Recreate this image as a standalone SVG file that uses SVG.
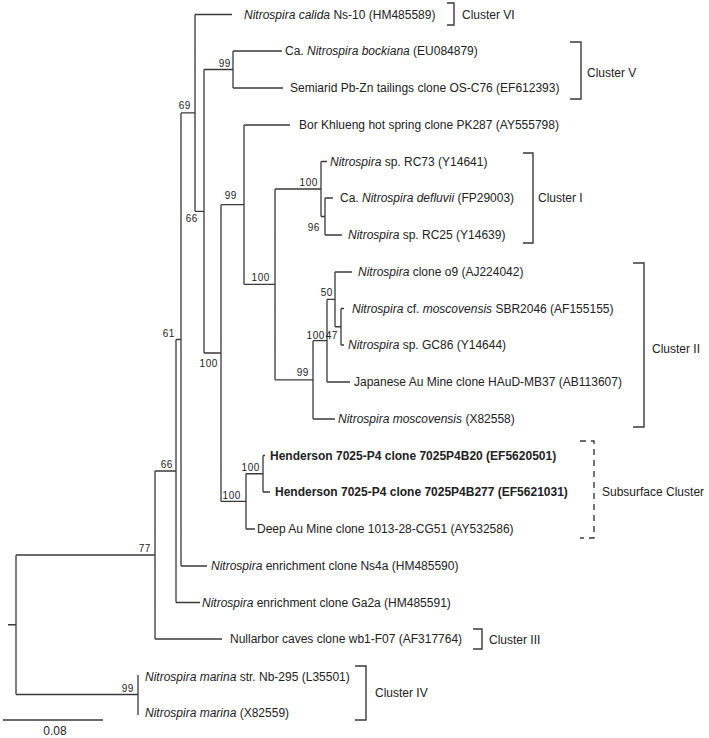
<svg xmlns="http://www.w3.org/2000/svg" width="709" height="738" viewBox="0 0 709 738">
<style>
.br{fill:none;stroke:#3a3a3a;stroke-width:1.3}
.bk{fill:none;stroke:#3a3a3a;stroke-width:1.4}
.dash{fill:none;stroke:#3a3a3a;stroke-width:1.4;stroke-dasharray:6,5}
text{font-family:"Liberation Sans",Arial,sans-serif;fill:#222}
.lf{font-size:12px}
.b{font-weight:bold}
.i{font-style:italic}
.sp{font-size:10px;text-anchor:end;letter-spacing:0.6px}
.cl{font-size:12px}
</style>
<rect width="709" height="738" fill="#fff"/>
<g id="connectors">
<path class="br" d="M8,624.75H16 M16,555V694.5
M16,555H155 M155,471V639 M155,639H222
M155,471H176 M176,339.5V602.5 M176,602.5H200
M176,339.5H181 M181,112.9V566 M181,566H207
M181,112.9H195 M195,14.5V211.3 M195,14.5H232
M195,211.3H204 M204,69.5V353
M204,69.5H233 M233,51V88 M233,51H282 M233,88H283
M204,353H221 M221,204.7V501.4
M221,204.7H244 M244,125V284.4 M244,125H290
M244,284.4H275 M275,189V379.85
M275,189H321 M321,161.5V216.5 M321,161.5H327
M321,216.5H325 M325,198V235 M325,198H333 M325,235H342
M275,379.85H313 M313,340.7V419 M313,419H335
M313,340.7H327 M327,299.4V382 M327,382H350
M327,299.4H335 M335,272V326.75 M335,272H352
M335,326.75H341 M341,308.5V345 M341,308.5H344 M341,345H344
M221,501.4H246 M246,473.75V529 M246,529H255
M246,473.75H263 M263,455.5V492 M263,455.5H265 M263,492H270
M16,694.5H138 M138,675V715"/>
</g>
<g id="leaves">
<g id="leaf-calida"><text class="lf" x="244" y="18.8"><tspan class="i">Nitrospira calida</tspan> Ns-10 (HM485589)</text></g>
<g id="leaf-bockiana"><text class="lf" x="285" y="55.3">Ca. <tspan class="i">Nitrospira bockiana</tspan> (EU084879)</text></g>
<g id="leaf-semiarid"><text class="lf" x="290" y="92.3">Semiarid Pb-Zn tailings clone OS-C76 (EF612393)</text></g>
<g id="leaf-bor"><text class="lf" x="299" y="129.3">Bor Khlueng hot spring clone PK287 (AY555798)</text></g>
<g id="leaf-rc73"><text class="lf" x="330" y="165.8"><tspan class="i">Nitrospira</tspan> sp. RC73 (Y14641)</text></g>
<g id="leaf-defluvii"><text class="lf" x="340" y="202.3">Ca. <tspan class="i">Nitrospira defluvii</tspan> (FP29003)</text></g>
<g id="leaf-rc25"><text class="lf" x="348" y="239.3"><tspan class="i">Nitrospira</tspan> sp. RC25 (Y14639)</text></g>
<g id="leaf-o9"><text class="lf" x="358" y="276.3"><tspan class="i">Nitrospira</tspan> clone o9 (AJ224042)</text></g>
<g id="leaf-sbr2046"><text class="lf" x="352" y="312.8"><tspan class="i">Nitrospira</tspan> cf. <tspan class="i">moscovensis</tspan> SBR2046 (AF155155)</text></g>
<g id="leaf-gc86"><text class="lf" x="348" y="349.3"><tspan class="i">Nitrospira</tspan> sp. GC86 (Y14644)</text></g>
<g id="leaf-japanese"><text class="lf" x="354" y="386.3">Japanese Au Mine clone HAuD-MB37 (AB113607)</text></g>
<g id="leaf-moscovensis"><text class="lf" x="338" y="423.3"><tspan class="i">Nitrospira moscovensis</tspan> (X82558)</text></g>
<g id="leaf-b20"><text class="lf b" x="270" y="459.8">Henderson 7025-P4 clone 7025P4B20 (EF5620501)</text></g>
<g id="leaf-b277"><text class="lf b" x="275" y="496.3">Henderson 7025-P4 clone 7025P4B277 (EF5621031)</text></g>
<g id="leaf-deep"><text class="lf" x="257" y="533.3">Deep Au Mine clone 1013-28-CG51 (AY532586)</text></g>
<g id="leaf-ns4a"><text class="lf" x="211" y="570.3"><tspan class="i">Nitrospira</tspan> enrichment clone Ns4a (HM485590)</text></g>
<g id="leaf-ga2a"><text class="lf" x="202" y="606.8"><tspan class="i">Nitrospira</tspan> enrichment clone Ga2a (HM485591)</text></g>
<g id="leaf-nullarbor"><text class="lf" x="230" y="643.3">Nullarbor caves clone wb1-F07 (AF317764)</text></g>
<g id="leaf-marina1"><text class="lf" x="145" y="681.3"><tspan class="i">Nitrospira marina</tspan> str. Nb-295 (L35501)</text></g>
<g id="leaf-marina2"><text class="lf" x="145" y="717.3"><tspan class="i">Nitrospira marina</tspan> (X82559)</text></g>
</g>
<g id="support">
<g id="n69"><text class="sp" x="191" y="109">69</text></g>
<g id="n99a"><text class="sp" x="231" y="67">99</text></g>
<g id="n66a"><text class="sp" x="198" y="222">66</text></g>
<g id="n99b"><text class="sp" x="237" y="199">99</text></g>
<g id="n100a"><text class="sp" x="218" y="367">100</text></g>
<g id="n100b"><text class="sp" x="270" y="281">100</text></g>
<g id="n100c"><text class="sp" x="318" y="186">100</text></g>
<g id="n96"><text class="sp" x="320" y="231">96</text></g>
<g id="n50"><text class="sp" x="333" y="296">50</text></g>
<g id="n100d"><text class="sp" x="325" y="339">100</text></g>
<g id="n47"><text class="sp" x="338" y="339">47</text></g>
<g id="n99c"><text class="sp" x="309" y="376">99</text></g>
<g id="n100e"><text class="sp" x="260" y="471">100</text></g>
<g id="n100f"><text class="sp" x="241" y="499">100</text></g>
<g id="n61"><text class="sp" x="175" y="337">61</text></g>
<g id="n66b"><text class="sp" x="173" y="468">66</text></g>
<g id="n77"><text class="sp" x="151" y="552">77</text></g>
<g id="n99d"><text class="sp" x="134" y="692">99</text></g>
</g>
<g id="clusters">
<g id="cluster-vi"><path class="bk" d="M447,3H454V25H447"/><text class="cl" x="462" y="18.5">Cluster VI</text></g>
<g id="cluster-v"><path class="bk" d="M570,42H581V99H570"/><text class="cl" x="587" y="76.5">Cluster V</text></g>
<g id="cluster-i"><path class="bk" d="M523,153H533V243H523"/><text class="cl" x="538" y="201.5">Cluster I</text></g>
<g id="cluster-ii"><path class="bk" d="M633,263H644V427H633"/><text class="cl" x="652" y="352.5">Cluster II</text></g>
<g id="cluster-sub"><path class="dash" d="M580,441H594V538H580"/><text class="cl" x="602" y="495.5">Subsurface Cluster</text></g>
<g id="cluster-iii"><path class="bk" d="M473,629H482V649H473"/><text class="cl" x="489" y="644">Cluster III</text></g>
<g id="cluster-iv"><path class="bk" d="M355,666H366V720H355"/><text class="cl" x="375" y="697">Cluster IV</text></g>
</g>
<g id="scale">
<path class="br" d="M3,720H103"/>
<text class="cl" x="55" y="735" text-anchor="middle">0.08</text>
</g>
</svg>
